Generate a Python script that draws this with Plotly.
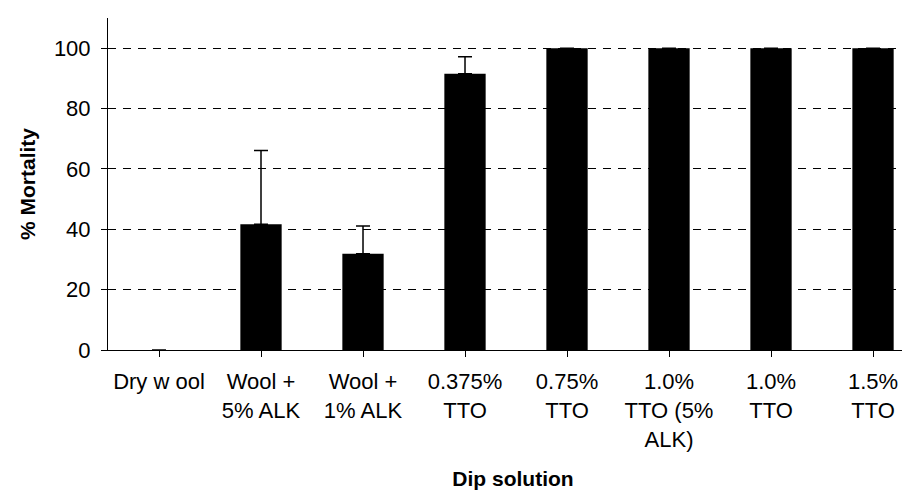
import plotly.graph_objects as go

categories = ["Dry w ool", "Wool +<br>5% ALK", "Wool +<br>1% ALK", "0.375%<br>TTO",
              "0.75%<br>TTO", "1.0%<br>TTO (5%<br>ALK)", "1.0%<br>TTO", "1.5%<br>TTO"]
mortality = [0, 41.7, 31.9, 91.5, 100, 100, 100, 100]
error_plus = [0, 24.4, 9.2, 5.7, 0, 0, 0, 0]

y_ticks = [0, 20, 40, 60, 80, 100]

FONT = "Arial, Liberation Sans, sans-serif"

fig = go.Figure()
fig.add_trace(go.Bar(
    x=list(range(len(categories))),
    y=mortality,
    width=0.405,
    marker=dict(color="black", line=dict(width=0)),
    error_y=dict(type="data", array=error_plus, arrayminus=[0]*len(error_plus),
                 symmetric=False, color="black", thickness=1.5, width=7),
    showlegend=False,
))

fig.update_layout(
    width=910, height=490,
    margin=dict(l=100, r=0, t=10, b=148),
    plot_bgcolor="white", paper_bgcolor="white",
    font=dict(family=FONT, size=22, color="black"),
    xaxis=dict(
        range=[-0.5, 7.441],
        tickmode="array",
        tickvals=list(range(len(categories))),
        ticktext=categories,
        tickson="boundaries",
        ticks="outside", ticklen=6, tickcolor="black", tickwidth=1,
        showline=True, linecolor="black", linewidth=1,
        showgrid=False, zeroline=False,
        tickangle=0,
        tickfont=dict(size=22),
        ticklabelstandoff=6,
        title=dict(text="<b>Dip solution</b>", font=dict(size=21), standoff=20),
    ),
    yaxis=dict(
        range=[0, 110],
        tickmode="array",
        tickvals=y_ticks,
        ticks="outside", ticklen=6, tickcolor="black", tickwidth=1,
        showline=True, linecolor="black", linewidth=1,
        showgrid=True, gridcolor="black", gridwidth=1, griddash="8px,7px",
        zeroline=False,
        tickfont=dict(size=22),
        ticklabelstandoff=6,
        title=dict(text="<b>% Mortality</b>", font=dict(size=21), standoff=12),
    ),
)

fig.write_html("out.html")
